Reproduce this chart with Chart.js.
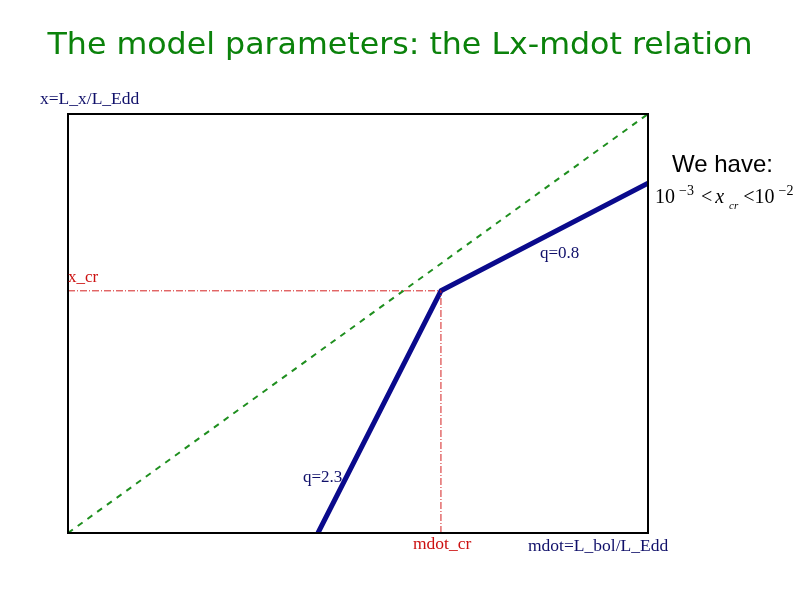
<!DOCTYPE html>
<html>
<head>
<meta charset="utf-8">
<script src="https://cdn.jsdelivr.net/npm/chart.js@4"></script>
<style>
  body { margin: 0; background: #fff; }
  #wrap { position: relative; width: 800px; height: 600px; overflow: hidden; }
  #chart { position: absolute; left: 0; top: 0; }
  .lbl { position: absolute; white-space: nowrap; font-family: "Liberation Serif", "DejaVu Serif", serif; line-height: 1; }
  #title { position: absolute; left: 0; top: 24px; width: 800px; text-align: center; color: #0b820b;
           font-family: "DejaVu Sans Condensed", "DejaVu Sans", sans-serif; font-stretch: condensed; font-size: 38px; line-height: 1;
           transform: scaleY(0.85); transform-origin: 50% 33px; }
  .math span { position: relative; }
</style>
</head>
<body>
<div id="wrap">
  <canvas id="chart" width="800" height="600"></canvas>
  <div id="title"><span id="titleText">The model parameters: the Lx-mdot relation</span></div>
  <div class="lbl" style="left:40px;top:90px;font-size:17.5px;color:#10106a;">x=L_x/L_Edd</div>
  <div class="lbl" style="left:68px;top:268px;font-size:17px;color:#cc1111;">x_cr</div>
  <div class="lbl" style="left:540px;top:244px;font-size:17px;color:#10106a;">q=0.8</div>
  <div class="lbl" style="left:303px;top:468px;font-size:17px;color:#10106a;">q=2.3</div>
  <div class="lbl" style="left:413px;top:535px;font-size:17.5px;color:#cc1111;">mdot_cr</div>
  <div class="lbl" style="left:528px;top:537px;font-size:17.5px;color:#10106a;">mdot=L_bol/L_Edd</div>
  <div class="lbl" style="left:672px;top:152px;font-size:24px;color:#000;font-family:'Liberation Sans',Arial,sans-serif;">We have:</div>
  <div class="lbl math" style="left:655px;top:186px;font-size:20px;color:#000;">10<span style="font-size:14px;top:-8px;margin-left:4px;">&minus;3</span><span style="margin-left:7px;">&lt;</span><i style="margin-left:3px;">x</i><span style="font-size:11px;top:6px;margin-left:5px;"><i>cr</i></span><span style="margin-left:5px;">&lt;</span>10<span style="font-size:14px;top:-8px;margin-left:4px;">&minus;2</span></div>
</div>
<script>
// ---- data (axis units 0..10 on both axes) ----
const diagX = [0, 10];
const diagY = [0, 10];
const curveX = [4.31, 6.43, 10];
const curveY = [0, 5.78, 8.35];
const critX = 6.43;
const critY = 5.78;

const toPts = (xs, ys) => xs.map((x, i) => ({ x, y: ys[i] }));

// fit title to reference width
(function () {
    const t = document.getElementById('titleText');
    const w = t.getBoundingClientRect().width;
    const target = 705;
    const fs = 38 * target / w;
    document.getElementById('title').style.fontSize = fs.toFixed(1) + 'px';
})();

const boxPlugin = {
    id: 'box',
    afterDraw(chart) {
        const { ctx, chartArea: a } = chart;
        ctx.save();
        ctx.strokeStyle = '#000';
        ctx.lineWidth = 2;
        ctx.strokeRect(a.left, a.top, a.right - a.left, a.bottom - a.top);
        ctx.restore();
    }
};

new Chart(document.getElementById('chart').getContext('2d'), {
    type: 'scatter',
    data: {
        datasets: [
            { data: toPts([0, critX], [critY, critY]), showLine: true, borderColor: '#d42020', borderWidth: 1,
              borderDash: [7, 2, 1, 2], pointRadius: 0 },
            { data: toPts([critX, critX], [0, critY]), showLine: true, borderColor: '#d42020', borderWidth: 1,
              borderDash: [7, 2, 1, 2], pointRadius: 0 },
            { data: toPts(diagX, diagY), showLine: true, borderColor: '#1f8f1f', borderWidth: 2,
              borderDash: [6, 6], pointRadius: 0 },
            { data: toPts(curveX, curveY), showLine: true, borderColor: '#0a0a8c', borderWidth: 5,
              borderJoinStyle: 'round', pointRadius: 0 }
        ]
    },
    options: {
        responsive: false,
        animation: false,
        layout: { padding: { left: 68, right: 152, top: 114, bottom: 67 } },
        scales: {
            x: { type: 'linear', min: 0, max: 10, display: false },
            y: { type: 'linear', min: 0, max: 10, display: false }
        },
        plugins: { legend: { display: false }, tooltip: { enabled: false } }
    },
    plugins: [boxPlugin]
});
</script>
</body>
</html>
